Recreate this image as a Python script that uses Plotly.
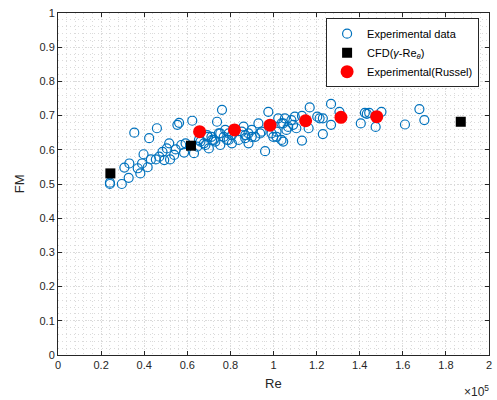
import plotly.graph_objects as go

# Re values in units of 1e5 (axis shows x10^5)
exp_re = [0.241, 0.241, 0.296, 0.328, 0.308, 0.331, 0.354, 0.370, 0.382, 0.390,
          0.397, 0.423, 0.416, 0.431, 0.459, 0.454, 0.470, 0.485, 0.493, 0.505,
          0.516, 0.520, 0.539, 0.546, 0.554, 0.562, 0.572, 0.585, 0.592,
          0.623, 0.631, 0.654, 0.677, 0.692, 0.700, 0.712, 0.723, 0.738, 0.746,
          0.753, 0.761, 0.769, 0.784, 0.792, 0.807, 0.838, 0.853, 0.869, 0.884,
          0.899, 0.915, 0.930, 0.938, 0.961, 0.976, 0.999, 1.014, 1.022, 1.037,
          1.045, 1.060, 1.037, 1.045, 1.053, 1.068, 1.083, 1.091, 1.099, 1.106,
          1.132, 1.132, 1.163, 1.168, 1.203, 1.214, 1.229, 1.229, 1.267, 1.267,
          1.306, 1.405, 1.424, 1.433, 1.444, 1.501, 1.474, 1.610, 1.677, 1.700,
          0.884, 0.646, 0.661, 0.684, 0.696, 0.715, 0.730, 0.753, 0.776, 0.792,
          0.807, 0.861, 0.869, 0.899, 0.945, 0.991, 1.014]
exp_fm = [0.504, 0.500, 0.500, 0.518, 0.548, 0.560, 0.650, 0.546, 0.531, 0.560,
          0.587, 0.634, 0.549, 0.572, 0.663, 0.572, 0.580, 0.594, 0.570, 0.604,
          0.619, 0.572, 0.585, 0.601, 0.673, 0.679, 0.614, 0.592, 0.619,
          0.685, 0.590, 0.629, 0.619, 0.643, 0.604, 0.638, 0.629, 0.682, 0.648,
          0.614, 0.717, 0.638, 0.629, 0.648, 0.619, 0.629, 0.653, 0.634, 0.648,
          0.658, 0.638, 0.677, 0.648, 0.596, 0.711, 0.638, 0.653, 0.692, 0.629,
          0.677, 0.658, 0.677, 0.624, 0.692, 0.667, 0.687, 0.673, 0.697, 0.663,
          0.699, 0.627, 0.663, 0.724, 0.697, 0.692, 0.692, 0.646, 0.734, 0.673,
          0.711, 0.677, 0.708, 0.705, 0.708, 0.711, 0.667, 0.674, 0.719, 0.687,
          0.619, 0.609, 0.624, 0.614, 0.638, 0.629, 0.624, 0.648, 0.658, 0.629,
          0.643, 0.668, 0.643, 0.638, 0.653, 0.648, 0.638]

cfd_re = [0.243, 0.617, 1.869]
cfd_fm = [0.531, 0.612, 0.682]

russel_re = [0.657, 0.819, 0.984, 1.149, 1.313, 1.479]
russel_fm = [0.653, 0.658, 0.672, 0.685, 0.695, 0.697]

x_ticks = [0, 0.2, 0.4, 0.6, 0.8, 1.0, 1.2, 1.4, 1.6, 1.8, 2.0]
y_ticks = [0, 0.1, 0.2, 0.3, 0.4, 0.5, 0.6, 0.7, 0.8, 0.9, 1.0]

FONT = "Liberation Sans, Arial, Helvetica, sans-serif"
AX = "#262626"
GRID = "#dadada"

fig = go.Figure()
fig.add_trace(go.Scatter(
    x=exp_re, y=exp_fm, mode="markers", name="Experimental data",
    marker=dict(symbol="circle-open", size=9, color="#0072BD",
                line=dict(width=1.2, color="#0072BD"))))
fig.add_trace(go.Scatter(
    x=cfd_re, y=cfd_fm, mode="markers", name="CFD(<i>γ</i>-Re<sub><i>θ</i></sub>)",
    marker=dict(symbol="square", size=10, color="black")))
fig.add_trace(go.Scatter(
    x=russel_re, y=russel_fm, mode="markers", name="Experimental(Russel)",
    marker=dict(symbol="circle", size=13, color="#ff0000")))

axis_common = dict(
    showline=True, linecolor=AX, linewidth=1, mirror="ticks",
    ticks="inside", ticklen=4, tickcolor=AX, tickwidth=1,
    showgrid=True, gridcolor=GRID, griddash="1px,2px", gridwidth=1,
    zeroline=False, tickfont=dict(family=FONT, size=11, color=AX),
)

fig.update_xaxes(range=[0, 2], tickvals=x_ticks,
                 minor=dict(dtick=0.04, showgrid=True, gridcolor=GRID,
                            griddash="1px,3px", gridwidth=1, ticks=""),
                 **axis_common)
fig.update_yaxes(range=[0, 1], tickvals=y_ticks,
                 minor=dict(dtick=0.02, showgrid=True, gridcolor=GRID,
                            griddash="1px,3px", gridwidth=1, ticks=""),
                 **axis_common)

fig.update_layout(
    width=497, height=400,
    margin=dict(l=58, r=5, t=13, b=45),
    paper_bgcolor="white", plot_bgcolor="white",
    font=dict(family=FONT, size=11, color=AX),
    showlegend=True,
    legend=dict(x=0.977, y=0.985, xanchor="right", yanchor="top",
                bgcolor="white", bordercolor=AX, borderwidth=1,
                font=dict(family=FONT, size=11, color="black"),
                tracegroupgap=0, itemwidth=30),
    annotations=[
        dict(text="Re", xref="paper", yref="paper", x=0.5, y=-0.083,
             xanchor="center", yanchor="middle", showarrow=False,
             font=dict(family=FONT, size=13, color=AX)),
        dict(text="FM", xref="paper", yref="paper", x=-0.09, y=0.5,
             xanchor="center", yanchor="middle", showarrow=False, textangle=-90,
             font=dict(family=FONT, size=13, color=AX)),
        dict(text="×10<sup>5</sup>", xref="paper", yref="paper", x=1.005, y=-0.105,
             xanchor="right", yanchor="middle", showarrow=False,
             font=dict(family=FONT, size=12, color=AX)),
    ],
)

fig.write_html("out.html")
